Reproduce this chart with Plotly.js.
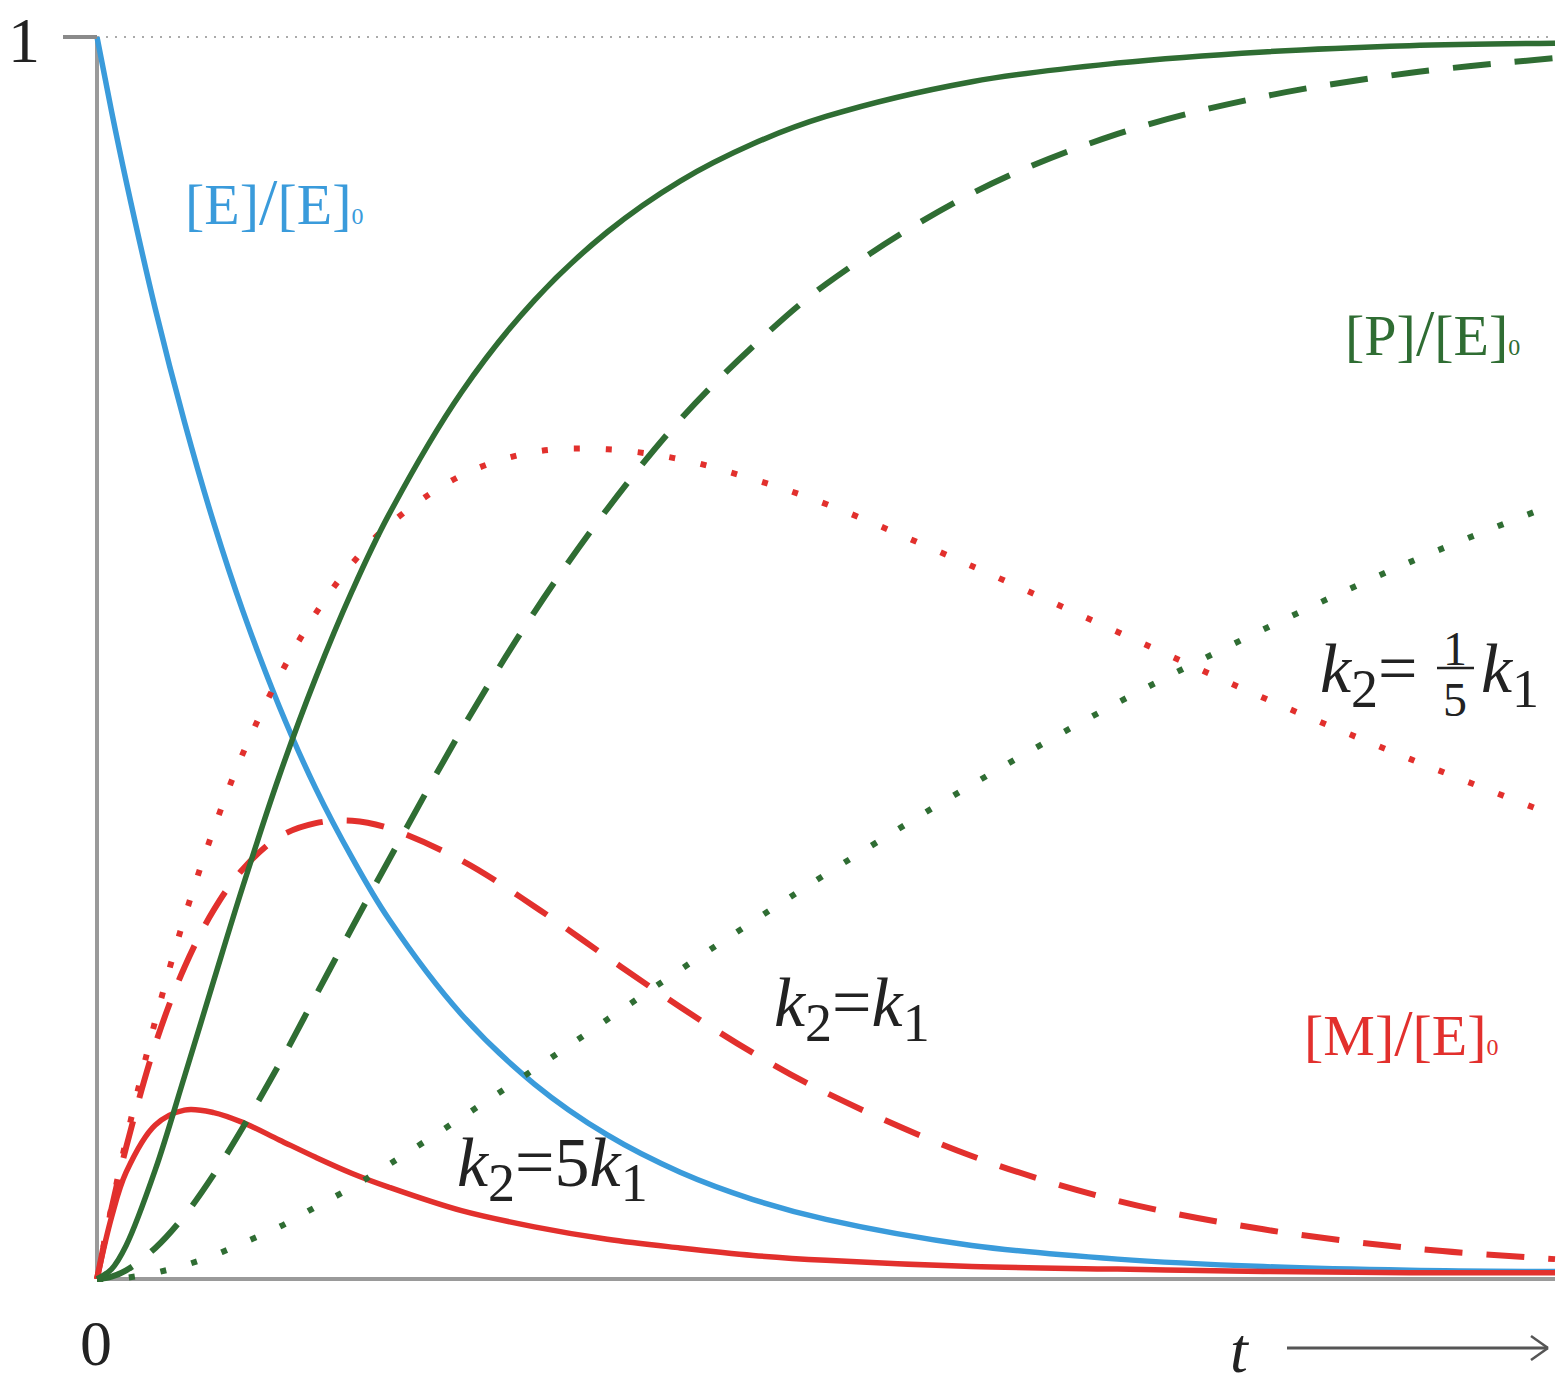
<!DOCTYPE html>
<html>
<head>
<meta charset="utf-8">
<script src="https://cdn.plot.ly/plotly-3.0.1.min.js"></script>
<style>
  html, body { margin: 0; padding: 0; background: #ffffff; }
  #chart { width: 1557px; height: 1378px; }
</style>
</head>
<body>
<div id="chart"></div>
<script>
// time samples (arbitrary units, 0 … 10 across the plot)
const t = [0, 0.1, 0.2, 0.4, 0.6, 0.8, 1.0, 1.25, 1.5, 1.75, 2, 2.5, 3, 3.5, 4, 4.5, 5, 6, 7, 8, 9, 10];

// [E]/[E]0 (blue)
const E = [1, 0.940, 0.884, 0.781, 0.690, 0.609, 0.538, 0.461, 0.395, 0.339, 0.290, 0.213, 0.157, 0.116, 0.086, 0.064, 0.048, 0.027, 0.016, 0.010, 0.007, 0.006];

// [M]/[E]0 (red) for the three cases
const M_fast = [0, 0.050, 0.086, 0.124, 0.136, 0.134, 0.126, 0.112, 0.098, 0.085, 0.074, 0.055, 0.042, 0.032, 0.025, 0.019, 0.015, 0.010, 0.008, 0.006, 0.005, 0.005];   // k2 = 5 k1
const M_eq   = [0, 0.057, 0.106, 0.189, 0.251, 0.297, 0.330, 0.356, 0.367, 0.369, 0.363, 0.337, 0.300, 0.259, 0.219, 0.182, 0.150, 0.099, 0.063, 0.040, 0.025, 0.016];   // k2 = k1
const M_slow = [0, 0.058, 0.112, 0.208, 0.291, 0.362, 0.423, 0.485, 0.536, 0.576, 0.607, 0.647, 0.666, 0.668, 0.660, 0.644, 0.624, 0.574, 0.521, 0.468, 0.419, 0.373];   // k2 = k1/5

// [P]/[E]0 (green) for the three cases
const P_fast = [0, 0.008, 0.027, 0.088, 0.163, 0.240, 0.316, 0.405, 0.484, 0.554, 0.615, 0.714, 0.788, 0.843, 0.884, 0.914, 0.936, 0.964, 0.979, 0.988, 0.993, 0.995];
const P_eq   = [0, 0.002, 0.007, 0.025, 0.051, 0.084, 0.122, 0.173, 0.228, 0.283, 0.337, 0.442, 0.537, 0.620, 0.692, 0.751, 0.801, 0.874, 0.922, 0.952, 0.971, 0.983];
const P_slow = [0, 0.0003, 0.001, 0.005, 0.011, 0.019, 0.029, 0.042, 0.058, 0.074, 0.092, 0.130, 0.169, 0.209, 0.249, 0.288, 0.326, 0.398, 0.464, 0.523, 0.577, 0.624];

const BLUE = '#3a9bdb', GREEN = '#2f6d33', RED = '#e2302d', GRAY = '#9a9a9a';
const SOLID = 'solid', DASH = '38px,24px', DOT = '6px,26px';

function tr(y, color, dash) {
  return { x: t, y: y, type: 'scatter', mode: 'lines', hoverinfo: 'skip',
    line: { color: color, width: dash === SOLID ? 5.5 : 6, dash: dash, shape: 'spline', smoothing: 1 } };
}

const data = [
  tr(E, BLUE, SOLID),
  tr(M_slow, RED, DOT), tr(M_eq, RED, DASH), tr(M_fast, RED, SOLID),
  tr(P_slow, GREEN, DOT), tr(P_eq, GREEN, DASH), tr(P_fast, GREEN, SOLID)
];

// pixel -> paper helpers for decorations
const ML = 90, MT = 12, MB = 87, W = 1557, H = 1378;
const PW = W - ML, PH = H - MT - MB;
const px = v => (v - ML) / PW;
const py = v => (H - MB - v) / PH;

const SERIF = 'Liberation Serif';
function ann(text, x, y, size, color, xanchor) {
  return { text: text, xref: 'paper', yref: 'paper', x: px(x), y: py(y), showarrow: false,
    xanchor: xanchor || 'left', yanchor: 'middle', font: { family: SERIF, size: size, color: color } };
}
const sub0 = '<span style="font-size:24px">0</span>';
const sl = '<span style="font-size:66px">/</span>';
const s2 = '<sub><span style="font-size:54px">2</span></sub>';
const s1 = '<sub><span style="font-size:54px">1</span></sub>';

const annotations = [
  ann('1', 24, 40, 64, '#222', 'center'),
  ann('0', 96, 1343, 64, '#222', 'center'),
  ann('<i>t</i>', 1240, 1350, 64, '#222', 'center'),
  ann('[E]' + sl + '[E]' + sub0, 183, 202, 58, BLUE),
  ann('[P]' + sl + '[E]' + sub0, 1343, 333, 58, GREEN),
  ann('[M]' + sl + '[E]' + sub0, 1302, 1032, 58, RED),
  ann('<i>k</i>' + s2 + '=5<i>k</i>' + s1, 455, 1168, 70, '#222'),
  ann('<i>k</i>' + s2 + '=<i>k</i>' + s1, 772, 1008, 70, '#222'),
  ann('<i>k</i>' + s2 + '=', 1318, 674, 70, '#222'),
  ann('1', 1455, 648, 48, '#222', 'center'),
  ann('5', 1455, 699, 48, '#222', 'center'),
  ann('<i>k</i>' + s1, 1479, 674, 70, '#222')
];

const shapes = [
  // dotted reference line at 1
  { type: 'line', xref: 'x', yref: 'y', x0: 0, x1: 10, y0: 1, y1: 1, layer: 'below', line: { color: '#aaaaaa', width: 2, dash: '2px,7px' } },
  // axes
  { type: 'line', xref: 'x', yref: 'y', x0: 0, x1: 0, y0: 0, y1: 1, layer: 'below', line: { color: GRAY, width: 4 } },
  { type: 'line', xref: 'x', yref: 'y', x0: 0, x1: 10, y0: 0, y1: 0, layer: 'below', line: { color: GRAY, width: 4 } },
  // tick at 1
  { type: 'line', xref: 'paper', yref: 'paper', x0: px(63), x1: px(97), y0: py(37), y1: py(37), line: { color: '#8a8a8a', width: 4 } },
  // fraction bar
  { type: 'line', xref: 'paper', yref: 'paper', x0: px(1437), x1: px(1474), y0: py(668), y1: py(668), line: { color: '#222', width: 2.5 } },
  // time arrow
  { type: 'line', xref: 'paper', yref: 'paper', x0: px(1287), x1: px(1548), y0: py(1348), y1: py(1348), line: { color: '#555', width: 3 } },
  { type: 'line', xref: 'paper', yref: 'paper', x0: px(1531), x1: px(1548), y0: py(1336), y1: py(1348), line: { color: '#555', width: 2.5 } },
  { type: 'line', xref: 'paper', yref: 'paper', x0: px(1531), x1: px(1548), y0: py(1360), y1: py(1348), line: { color: '#555', width: 2.5 } }
];

const layout = {
  width: W, height: H,
  margin: { l: ML, r: 0, t: MT, b: MB, pad: 0 },
  paper_bgcolor: '#ffffff', plot_bgcolor: '#ffffff',
  showlegend: false,
  xaxis: { range: [-0.04801, 10.0137], visible: false, fixedrange: true },
  yaxis: { range: [-0.00966, 1.02013], visible: false, fixedrange: true },
  shapes: shapes,
  annotations: annotations
};

Plotly.newPlot('chart', data, layout, { displayModeBar: false, staticPlot: true });
</script>
</body>
</html>
